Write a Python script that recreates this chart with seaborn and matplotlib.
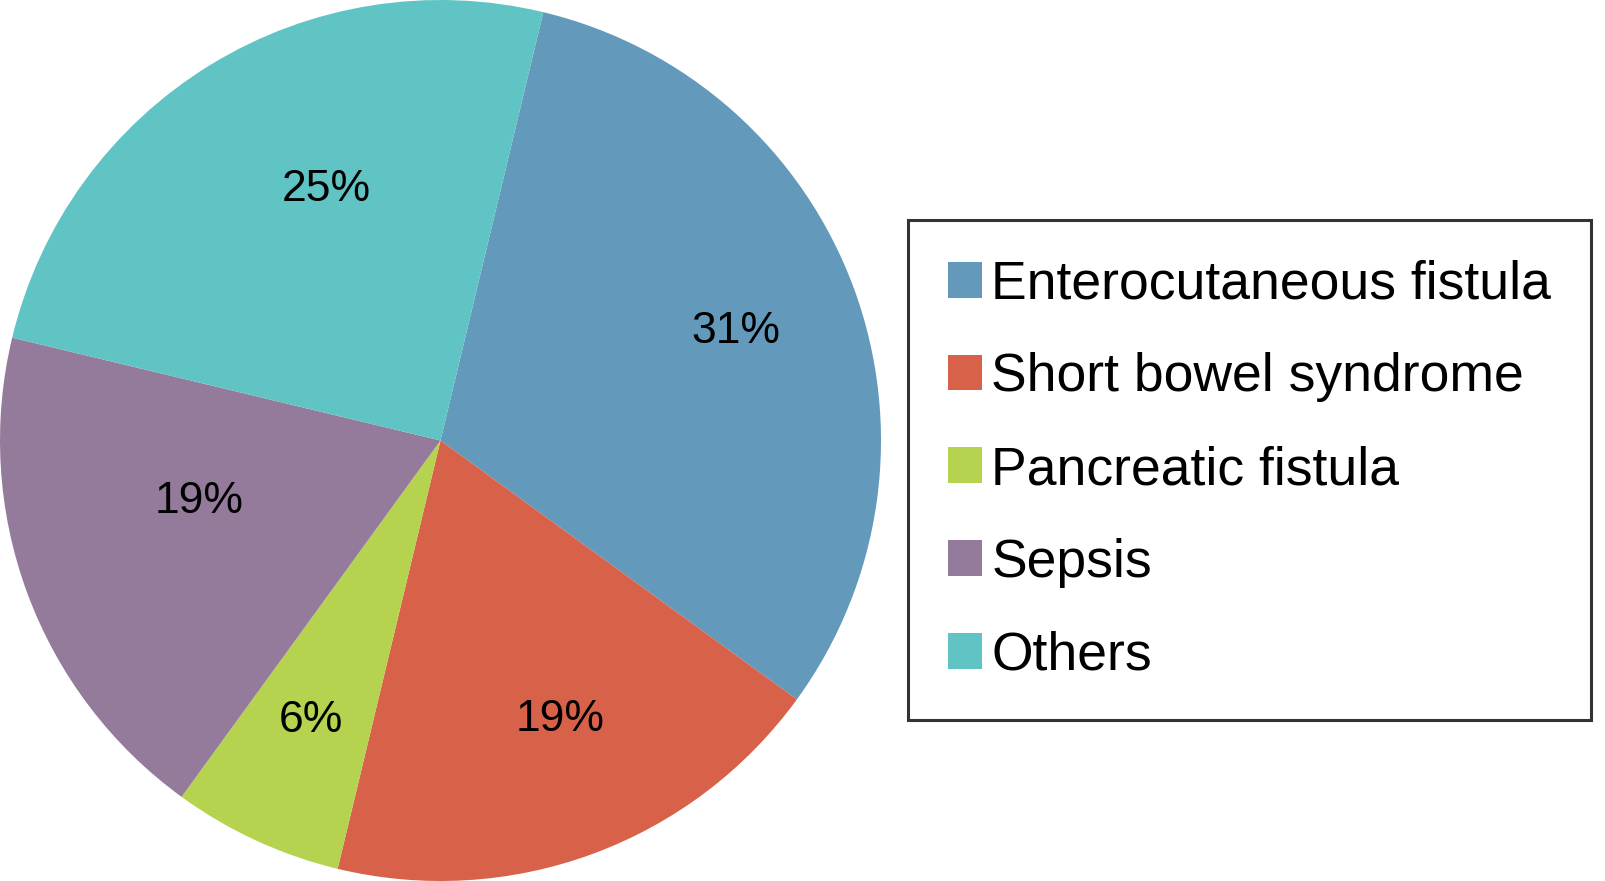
import matplotlib
matplotlib.use("Agg")
import matplotlib.pyplot as plt
import numpy as np
import seaborn as sns

# data (number of cases per cause)
causes = ['Enterocutaneous fistula', 'Short bowel syndrome', 'Pancreatic fistula', 'Sepsis', 'Others']
cases = [5, 3, 1, 3, 4]
hex_colors = ['#6399BA', '#D8614A', '#B5D34F', '#957B9B', '#5FC4C3']

# fine tuning of label placement (distance from centre, angular nudge in degrees)
label_dist = [0.715, 0.69, 0.70, 0.565, 0.625]
label_nudge = [0, 3, 0, -6, -7]

sns.set_theme(style='white')
plt.rcParams['font.family'] = ['Liberation Sans', 'DejaVu Sans']
plt.rcParams['text.color'] = 'black'

palette = sns.color_palette(hex_colors)

W, H = 1606, 881
fig = plt.figure(figsize=(W / 100, H / 100), dpi=100)
ax = fig.add_axes([0, 0, H / W, 1])

wedges, texts, autotexts = ax.pie(
    cases,
    colors=palette,
    startangle=76.5,
    counterclock=False,
    autopct='%.0f%%',
    pctdistance=0.7,
    radius=1.0,
    wedgeprops={'linewidth': 0},
    textprops={'fontsize': 32, 'color': 'black'},
)
ax.set_xlim(-1, 1)
ax.set_ylim(-1, 1)
ax.set_aspect('equal')
ax.axis('off')

# move percentage labels a bit, the way the original chart had them
for w, t, d, n in zip(wedges, autotexts, label_dist, label_nudge):
    mid = np.deg2rad((w.theta1 + w.theta2) / 2 + n)
    t.set_position((d * np.cos(mid), d * np.sin(mid)))
    t.set_ha('center')
    t.set_va('center')

leg = fig.legend(
    wedges,
    causes,
    loc='upper left',
    bbox_to_anchor=(908 / W, 1 - 220 / H),
    borderaxespad=0,
    fontsize=38.5,
    frameon=True,
    fancybox=False,
    handlelength=0.65,
    handleheight=0.65,
    handletextpad=0.17,
    labelspacing=0.8,
    borderpad=0.74,
)
for txt in leg.get_texts():
    txt.set_color('black')
leg.get_frame().set_edgecolor('black')
leg.get_frame().set_linewidth(2.2)

fig.savefig('out.png', dpi=100, facecolor='white')
